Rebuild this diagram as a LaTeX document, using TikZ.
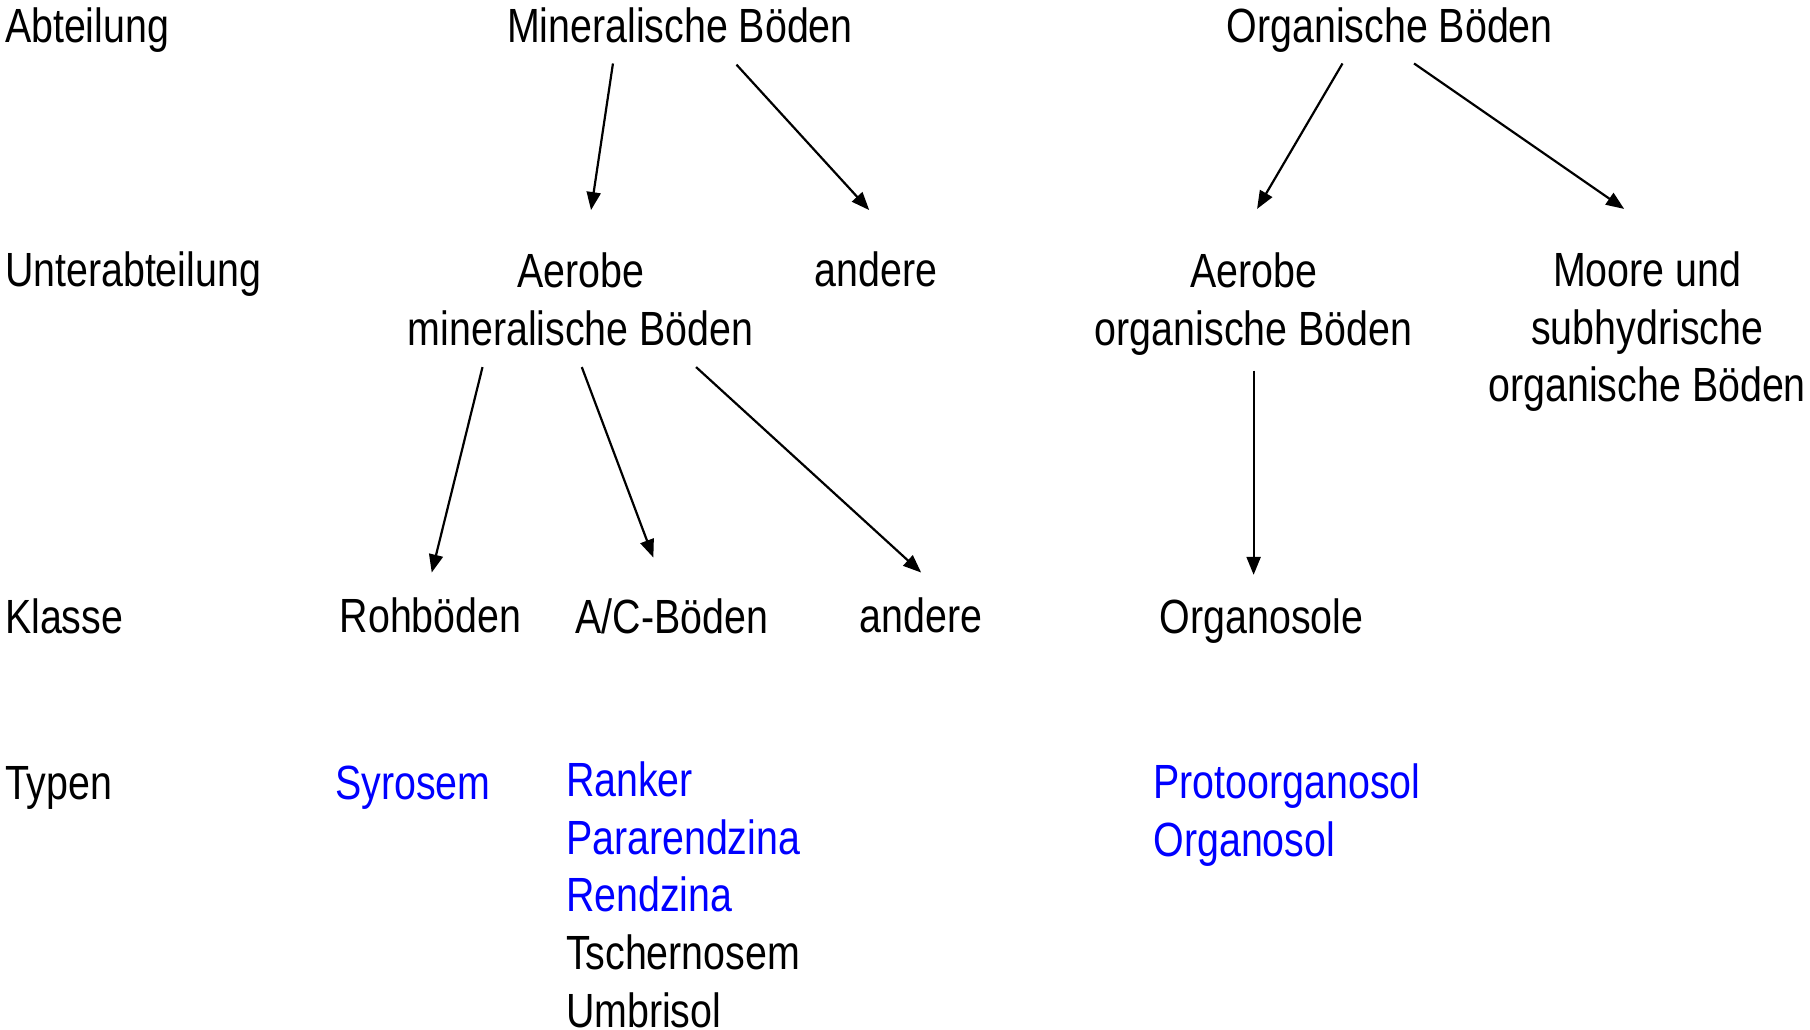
\documentclass[tikz,border=0pt]{standalone}
\usepackage{fontspec}
\setmainfont{Liberation Sans}[FakeStretch=0.82]
\usetikzlibrary{arrows.meta}
\definecolor{typblue}{RGB}{0,0,255}
\begin{document}
\begin{tikzpicture}[x=0.57715pt,y=-0.57715pt,
  every node/.style={inner sep=0pt,font=\fontsize{24pt}{28.85pt}\selectfont},
  lbl/.style={anchor=base west},
  txt/.style={anchor=base,align=center},
  typ/.style={anchor=base west,align=left,text=typblue},
  arr/.style={line width=1.1pt,-{Triangle[length=9pt,width=7pt]}}]
\useasboundingbox (0,0) rectangle (1568,892);
% row labels
\node[lbl] (l1) at (4,37) {Abteilung};
\node[lbl] (l2) at (4,248) {Unterabteilung};
\node[lbl] (l3) at (4,549) {Klasse};
\node[lbl] (l4) at (4,693) {Typen};
% Abteilung
\node[txt] (mb) at (589,37) {Mineralische Böden};
\node[txt] (ob) at (1204,37) {Organische Böden};
% Unterabteilung (base = last line)
\node[txt] (amb) at (503,299) {Aerobe\\mineralische Böden};
\node[txt] (an1) at (759,248) {andere};
\node[txt] (aob) at (1086,299) {Aerobe\\organische Böden};
\node[txt] (moo) at (1427,348) {Moore und\\subhydrische\\organische Böden};
% Klasse
\node[txt] (roh) at (373,548) {Rohböden};
\node[txt] (acb) at (582,549) {A/C-Böden};
\node[txt] (an2) at (798,548) {andere};
\node[txt] (ors) at (1093,549) {Organosole};
% Typen (base = last line)
\node[typ] (syr) at (290,693) {Syrosem};
\node[typ] (acl) at (490,890) {Ranker\\Pararendzina\\Rendzina\\\textcolor{black}{Tschernosem}\\\textcolor{black}{Umbrisol}};
\node[typ] (orl) at (999,742) {Protoorganosol\\Organosol};
% connector end points
\coordinate (mbA) at (531,55);  \coordinate (ambT) at (512,182);
\coordinate (mbB) at (638,56);  \coordinate (an1T) at (753,182);
\coordinate (obA) at (1163,55); \coordinate (aobT) at (1089,181);
\coordinate (obB) at (1225,55); \coordinate (mooT) at (1407,181);
\coordinate (ambA) at (418,318); \coordinate (rohT) at (374,496);
\coordinate (ambB) at (504,318); \coordinate (acbT) at (566,483);
\coordinate (ambC) at (603,318); \coordinate (an2T) at (798,496);
\coordinate (aobA) at (1086,321); \coordinate (orsT) at (1086,498);
\draw[arr] (mbA) -- (ambT);
\draw[arr] (mbB) -- (an1T);
\draw[arr] (obA) -- (aobT);
\draw[arr] (obB) -- (mooT);
\draw[arr] (ambA) -- (rohT);
\draw[arr] (ambB) -- (acbT);
\draw[arr] (ambC) -- (an2T);
\draw[arr] (aobA) -- (orsT);
\end{tikzpicture}
\end{document}
